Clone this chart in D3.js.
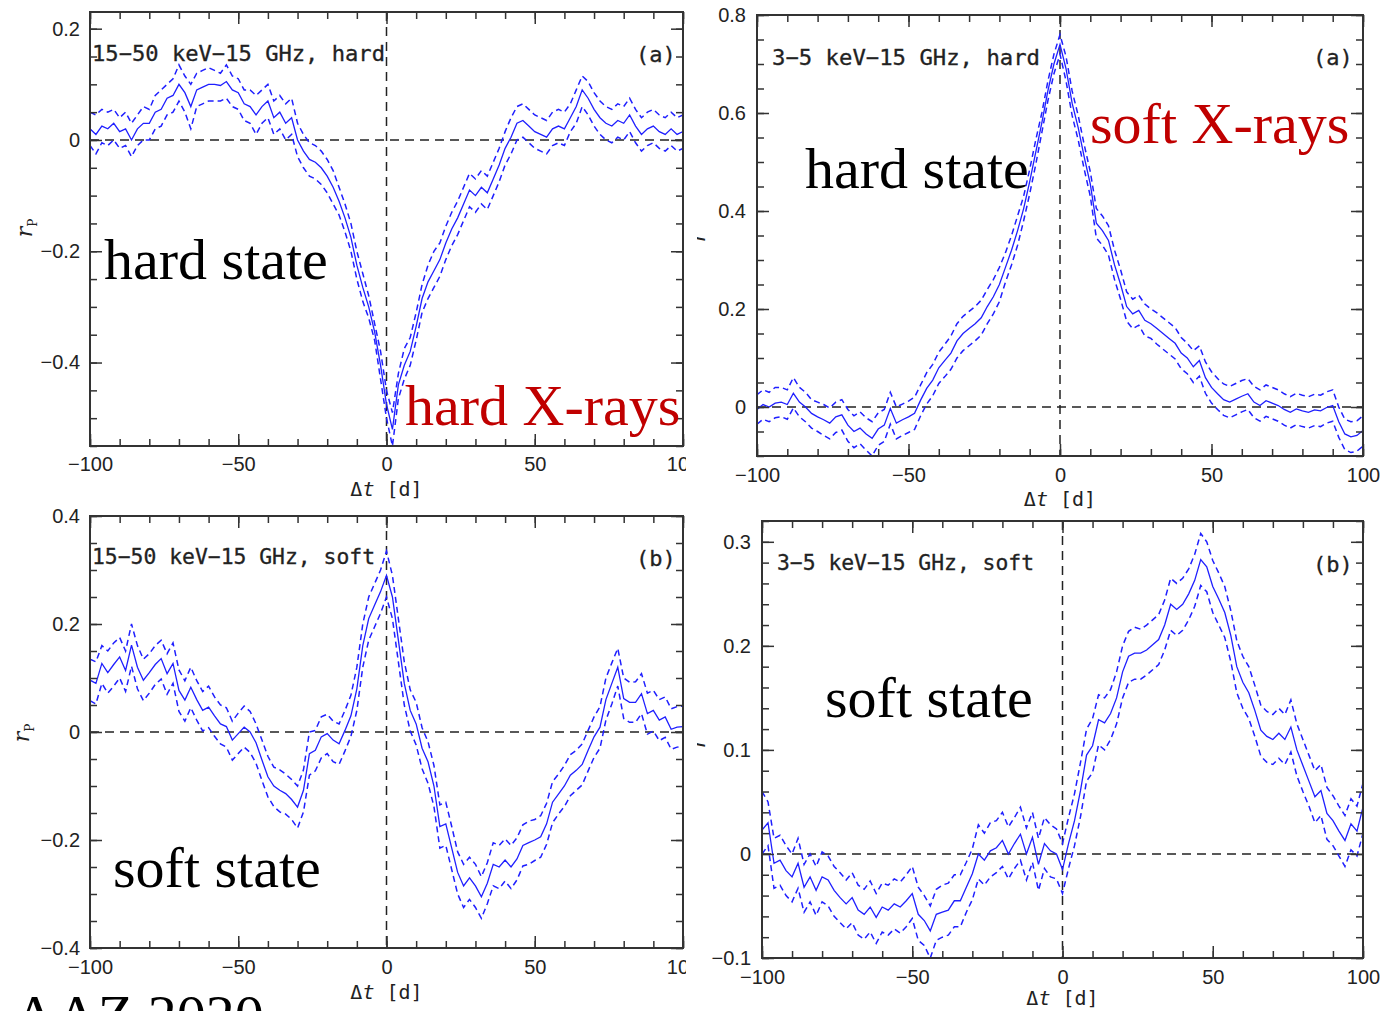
<!DOCTYPE html>
<html><head><meta charset="utf-8">
<script src="https://cdn.jsdelivr.net/npm/d3@7"></script>
<style>
html,body{margin:0;padding:0;background:#fff;}
svg{display:block;}
</style></head><body>
<svg id="chart" width="1398" height="1011"></svg>
<script>
// ---------- DATA ----------
const lags = d3.range(-100, 101, 2); // lag grid Δt [d]
const xMajorTicks = [-100, -50, 0, 50, 100];
const xMinorTicks = d3.range(-100, 101, 10);

// (a) 15-50 keV – 15 GHz, hard state
const hard15Center = [0.02,0.01,0.025,0.02,0.03,0.015,0.02,0.0,0.02,0.03,
 0.03,0.05,0.055,0.075,0.08,0.1,0.085,0.06,0.09,0.095,
 0.1,0.1,0.098,0.105,0.09,0.085,0.065,0.06,0.045,0.06,
 0.07,0.04,0.05,0.03,0.04,0.0,-0.02,-0.035,-0.04,-0.05,
 -0.065,-0.085,-0.11,-0.14,-0.175,-0.225,-0.265,-0.3,-0.345,-0.405,
 -0.475,-0.52,-0.44,-0.405,-0.38,-0.335,-0.285,-0.255,-0.235,-0.215,
 -0.185,-0.16,-0.14,-0.115,-0.09,-0.1,-0.085,-0.095,-0.07,-0.045,
 -0.015,0.005,0.03,0.035,0.025,0.015,0.01,0.005,0.02,0.025,
 0.02,0.04,0.06,0.09,0.075,0.055,0.04,0.03,0.025,0.035,
 0.03,0.045,0.025,0.01,0.02,0.025,0.015,0.01,0.02,0.01,0.015];
const hard15Upper = [0.05,0.045,0.055,0.05,0.055,0.04,0.05,0.03,0.045,0.06,
 0.055,0.08,0.09,0.1,0.11,0.135,0.115,0.1,0.12,0.125,
 0.13,0.125,0.12,0.135,0.115,0.11,0.09,0.09,0.08,0.09,
 0.1,0.07,0.08,0.065,0.075,0.03,0.01,-0.005,-0.01,-0.02,
 -0.035,-0.055,-0.085,-0.115,-0.15,-0.2,-0.24,-0.28,-0.33,-0.38,
 -0.45,-0.49,-0.42,-0.375,-0.355,-0.31,-0.26,-0.225,-0.2,-0.185,
 -0.155,-0.13,-0.11,-0.085,-0.06,-0.07,-0.055,-0.065,-0.04,-0.015,
 0.015,0.04,0.06,0.065,0.055,0.045,0.04,0.035,0.05,0.055,
 0.05,0.065,0.09,0.115,0.105,0.085,0.07,0.06,0.055,0.065,
 0.06,0.075,0.055,0.04,0.05,0.055,0.045,0.04,0.05,0.04,0.045];
const hard15Lower = [-0.01,-0.025,-0.005,-0.01,0.0,-0.015,-0.01,-0.03,-0.01,0.0,
 0.0,0.02,0.025,0.045,0.05,0.07,0.05,0.02,0.06,0.065,
 0.07,0.07,0.07,0.075,0.06,0.055,0.035,0.03,0.01,0.03,
 0.04,0.01,0.02,0.0,0.01,-0.03,-0.05,-0.065,-0.07,-0.08,
 -0.095,-0.115,-0.135,-0.165,-0.2,-0.25,-0.29,-0.32,-0.36,-0.43,
 -0.5,-0.55,-0.465,-0.43,-0.405,-0.36,-0.31,-0.285,-0.265,-0.245,
 -0.215,-0.19,-0.17,-0.145,-0.12,-0.13,-0.115,-0.125,-0.1,-0.075,
 -0.045,-0.025,0.0,0.005,-0.005,-0.015,-0.02,-0.025,-0.01,-0.005,
 -0.01,0.015,0.03,0.06,0.045,0.025,0.01,0.0,-0.005,0.005,
 0.0,0.015,-0.005,-0.02,-0.01,-0.005,-0.015,-0.02,-0.01,-0.02,-0.015];

// (a) 3-5 keV – 15 GHz, hard state
const hard3Center = [-0.005,0.005,0.0,0.008,0.01,0.005,0.028,0.01,0.0,-0.013,
 -0.02,-0.026,-0.033,-0.02,-0.016,-0.037,-0.05,-0.043,-0.055,-0.064,
 -0.045,-0.037,-0.003,-0.033,-0.026,-0.02,-0.013,0.014,0.038,0.055,
 0.08,0.095,0.11,0.135,0.15,0.16,0.17,0.182,0.205,0.225,
 0.25,0.285,0.32,0.36,0.405,0.46,0.52,0.58,0.645,0.7,
 0.74,0.69,0.62,0.57,0.51,0.455,0.375,0.36,0.34,0.29,
 0.25,0.205,0.19,0.197,0.177,0.17,0.16,0.15,0.14,0.13,
 0.11,0.1,0.082,0.095,0.06,0.04,0.027,0.015,0.01,0.016,
 0.022,0.027,0.01,0.003,0.013,0.008,0.003,-0.005,-0.011,-0.004,
 -0.008,-0.011,-0.006,-0.008,-0.001,0.003,-0.03,-0.055,-0.061,-0.058,-0.048];
const hard3Upper = [0.025,0.035,0.03,0.04,0.04,0.035,0.06,0.04,0.03,0.015,
 0.01,0.005,-0.002,0.01,0.015,-0.005,-0.018,-0.01,-0.022,-0.03,
 -0.012,-0.005,0.03,0.0,0.006,0.012,0.02,0.045,0.07,0.087,
 0.112,0.128,0.145,0.17,0.185,0.195,0.205,0.218,0.24,0.26,
 0.285,0.315,0.35,0.39,0.43,0.485,0.545,0.6,0.665,0.72,
 0.76,0.715,0.645,0.595,0.535,0.48,0.405,0.39,0.37,0.32,
 0.28,0.235,0.22,0.228,0.21,0.2,0.192,0.182,0.172,0.162,
 0.142,0.13,0.115,0.125,0.092,0.072,0.058,0.047,0.042,0.048,
 0.054,0.058,0.042,0.035,0.045,0.04,0.035,0.027,0.021,0.028,
 0.024,0.021,0.026,0.024,0.031,0.035,0.0,-0.025,-0.03,-0.028,-0.018];
const hard3Lower = [-0.035,-0.025,-0.03,-0.022,-0.02,-0.025,-0.002,-0.02,-0.03,-0.043,
 -0.05,-0.058,-0.065,-0.052,-0.047,-0.07,-0.083,-0.075,-0.088,-0.1,
 -0.078,-0.07,-0.035,-0.065,-0.058,-0.052,-0.046,-0.018,0.006,0.023,
 0.048,0.062,0.077,0.1,0.115,0.125,0.135,0.147,0.17,0.19,
 0.215,0.255,0.29,0.33,0.38,0.435,0.495,0.56,0.625,0.68,
 0.72,0.665,0.595,0.545,0.485,0.43,0.345,0.33,0.31,0.26,
 0.22,0.175,0.16,0.167,0.145,0.14,0.128,0.118,0.108,0.098,
 0.078,0.068,0.05,0.063,0.028,0.008,-0.005,-0.017,-0.022,-0.016,
 -0.01,-0.005,-0.022,-0.029,-0.019,-0.024,-0.029,-0.037,-0.043,-0.036,
 -0.04,-0.043,-0.038,-0.04,-0.033,-0.029,-0.062,-0.087,-0.093,-0.09,-0.08];

// (b) 15-50 keV – 15 GHz, soft state
const soft15Center = [0.096,0.09,0.127,0.11,0.125,0.139,0.114,0.161,0.12,0.096,
 0.11,0.125,0.136,0.108,0.127,0.077,0.059,0.083,0.06,0.04,
 0.046,0.03,0.015,0.01,-0.015,-0.003,0.009,0.0,-0.02,-0.052,
 -0.083,-0.1,-0.108,-0.114,-0.125,-0.139,-0.108,-0.04,-0.034,-0.009,
 -0.003,-0.015,-0.022,0.003,0.03,0.08,0.16,0.21,0.235,0.26,
 0.29,0.25,0.17,0.09,0.04,0.015,-0.03,-0.055,-0.1,-0.175,
 -0.17,-0.215,-0.26,-0.285,-0.27,-0.285,-0.305,-0.28,-0.245,-0.25,
 -0.237,-0.25,-0.235,-0.21,-0.205,-0.2,-0.194,-0.17,-0.13,-0.115,
 -0.1,-0.08,-0.071,-0.06,-0.034,-0.009,0.009,0.06,0.09,0.12,
 0.062,0.055,0.055,0.071,0.034,0.04,0.022,0.028,0.005,0.009,0.01];
const soft15Upper = [0.135,0.13,0.16,0.15,0.165,0.175,0.15,0.2,0.16,0.135,
 0.145,0.16,0.17,0.145,0.165,0.115,0.095,0.12,0.095,0.075,
 0.085,0.065,0.05,0.045,0.02,0.035,0.048,0.038,0.015,-0.015,
 -0.045,-0.065,-0.07,-0.078,-0.088,-0.1,-0.07,0.0,0.003,0.028,
 0.033,0.02,0.015,0.04,0.068,0.12,0.2,0.25,0.275,0.3,
 0.335,0.29,0.21,0.13,0.078,0.055,0.008,-0.018,-0.062,-0.135,
 -0.13,-0.175,-0.222,-0.245,-0.232,-0.245,-0.268,-0.242,-0.205,-0.21,
 -0.198,-0.21,-0.196,-0.172,-0.165,-0.162,-0.155,-0.132,-0.092,-0.078,
 -0.062,-0.042,-0.034,-0.022,0.003,0.028,0.047,0.1,0.128,0.155,
 0.1,0.092,0.093,0.108,0.072,0.077,0.06,0.065,0.043,0.047,0.048];
const soft15Lower = [0.058,0.052,0.09,0.072,0.085,0.1,0.075,0.122,0.08,0.058,
 0.072,0.088,0.098,0.07,0.09,0.038,0.02,0.045,0.022,0.002,
 0.008,-0.008,-0.022,-0.028,-0.052,-0.04,-0.028,-0.038,-0.058,-0.09,
 -0.12,-0.138,-0.148,-0.152,-0.162,-0.178,-0.148,-0.08,-0.072,-0.048,
 -0.04,-0.055,-0.06,-0.035,-0.008,0.04,0.12,0.17,0.195,0.22,
 0.25,0.21,0.13,0.05,0.002,-0.024,-0.068,-0.095,-0.138,-0.215,
 -0.21,-0.255,-0.3,-0.325,-0.31,-0.325,-0.345,-0.318,-0.285,-0.29,
 -0.276,-0.29,-0.274,-0.248,-0.245,-0.238,-0.232,-0.208,-0.168,-0.152,
 -0.138,-0.118,-0.108,-0.098,-0.072,-0.047,-0.03,0.022,0.052,0.085,
 0.025,0.018,0.018,0.034,-0.004,0.002,-0.016,-0.01,-0.032,-0.028,-0.027];

// (b) 3-5 keV – 15 GHz, soft state
const soft3Center = [0.023,0.03,-0.009,-0.006,-0.016,-0.022,-0.009,-0.032,-0.022,-0.035,
 -0.022,-0.025,-0.035,-0.042,-0.048,-0.042,-0.054,-0.058,-0.051,-0.061,
 -0.051,-0.054,-0.048,-0.051,-0.045,-0.038,-0.058,-0.064,-0.074,-0.058,
 -0.056,-0.054,-0.045,-0.045,-0.032,-0.019,0.0,-0.006,0.003,0.006,
 0.013,0.0,0.01,0.019,0.0,0.016,-0.01,0.01,0.003,0.0,
 -0.015,0.01,0.032,0.061,0.095,0.104,0.129,0.126,0.135,0.15,
 0.175,0.19,0.193,0.193,0.196,0.201,0.206,0.22,0.24,0.235,
 0.24,0.25,0.263,0.283,0.276,0.257,0.245,0.232,0.21,0.18,
 0.165,0.155,0.138,0.119,0.113,0.11,0.116,0.11,0.122,0.1,
 0.085,0.07,0.055,0.061,0.039,0.032,0.022,0.013,0.029,0.022,0.045];
const soft3Upper = [0.06,0.05,0.015,0.018,0.008,0.0,0.015,-0.01,0.0,-0.012,
 0.002,-0.002,-0.012,-0.018,-0.025,-0.018,-0.03,-0.034,-0.026,-0.038,
 -0.028,-0.03,-0.024,-0.027,-0.02,-0.012,-0.032,-0.04,-0.05,-0.034,
 -0.03,-0.028,-0.02,-0.02,-0.008,0.005,0.028,0.02,0.03,0.032,
 0.04,0.026,0.035,0.045,0.025,0.04,0.015,0.035,0.028,0.024,
 0.01,0.035,0.058,0.088,0.12,0.13,0.153,0.15,0.158,0.175,
 0.2,0.214,0.218,0.216,0.22,0.225,0.23,0.244,0.265,0.26,
 0.265,0.274,0.288,0.308,0.3,0.282,0.27,0.257,0.234,0.205,
 0.19,0.18,0.162,0.143,0.137,0.134,0.14,0.134,0.148,0.125,
 0.11,0.095,0.08,0.086,0.064,0.056,0.046,0.037,0.053,0.046,0.068];
const soft3Lower = [0.0,0.008,-0.033,-0.03,-0.04,-0.046,-0.033,-0.056,-0.046,-0.059,
 -0.046,-0.05,-0.06,-0.066,-0.072,-0.066,-0.078,-0.082,-0.075,-0.086,
 -0.075,-0.078,-0.072,-0.076,-0.07,-0.062,-0.083,-0.088,-0.1,-0.083,
 -0.08,-0.078,-0.07,-0.07,-0.056,-0.044,-0.024,-0.03,-0.022,-0.018,
 -0.012,-0.024,-0.014,-0.006,-0.025,-0.008,-0.035,-0.014,-0.022,-0.024,
 -0.038,-0.014,0.008,0.036,0.07,0.078,0.105,0.1,0.11,0.125,
 0.15,0.165,0.168,0.168,0.172,0.177,0.182,0.196,0.215,0.21,
 0.215,0.225,0.238,0.258,0.252,0.232,0.22,0.208,0.185,0.155,
 0.14,0.13,0.113,0.094,0.088,0.086,0.092,0.086,0.098,0.075,
 0.06,0.046,0.03,0.037,0.014,0.008,-0.002,-0.012,0.004,-0.002,0.02];

const yMajorA = [-0.4, -0.2, 0, 0.2];
const yMajorB = [0, 0.2, 0.4, 0.6, 0.8];
const yMajorC = [-0.4, -0.2, 0, 0.2, 0.4];
const yMajorD = [-0.1, 0, 0.1, 0.2, 0.3];
const yMinorA = [-0.55,-0.5,-0.45,-0.4,-0.35,-0.3,-0.25,-0.2,-0.15,-0.1,-0.05,0,0.05,0.1,0.15,0.2];
const yMinorB = [-0.1,-0.05,0,0.05,0.1,0.15,0.2,0.25,0.3,0.35,0.4,0.45,0.5,0.55,0.6,0.65,0.7,0.75,0.8];
const yMinorC = [-0.4,-0.35,-0.3,-0.25,-0.2,-0.15,-0.1,-0.05,0,0.05,0.1,0.15,0.2,0.25,0.3,0.35,0.4];
const yMinorD = [-0.1,-0.08,-0.06,-0.04,-0.02,0,0.02,0.04,0.06,0.08,0.1,0.12,0.14,0.16,0.18,0.2,0.22,0.24,0.26,0.28,0.3,0.32];

const panelTitles = ["15\u221250 keV\u221215 GHz, hard", "3\u22125 keV\u221215 GHz, hard",
                     "15\u221250 keV\u221215 GHz, soft", "3\u22125 keV\u221215 GHz, soft"];
const panelLetters = ["(a)", "(a)", "(b)", "(b)"];
const stateLabels = ["hard state", "hard state", "soft state", "soft state"];
const bandLabels = ["hard X-rays", "soft X-rays"];
const yTitleSubs = ["P", "", "P", ""];
const creditLabel = "AAZ 2020";

// ---------- LAYOUT ----------
const layout = [
  {x0:90, x1:683, y0:12, y1:446, dom:[-0.55,0.23], maj:yMajorA, min:yMinorA, c:hard15Center, u:hard15Upper, l:hard15Lower,
   left:true, xPad:11, titleY:496, yPad:10, yt:[32,228], tx:92, tw:293, ty:61, lx:636, ly:62,
   state:[104,279], band:[405,425,0]},
  {x0:757, x1:1363, y0:15, y1:456, dom:[-0.1,0.8], maj:yMajorB, min:yMinorB, c:hard3Center, u:hard3Upper, l:hard3Lower,
   left:false, xPad:12, titleY:506, yPad:11, yt:[705,237], tx:772, tw:268, ty:65, lx:1313, ly:65,
   state:[805,188], band:[1090,143,1]},
  {x0:90, x1:683, y0:516, y1:948, dom:[-0.4,0.4], maj:yMajorC, min:yMinorC, c:soft15Center, u:soft15Upper, l:soft15Lower,
   left:true, xPad:12, titleY:999, yPad:10, yt:[29,733], tx:92, tw:283, ty:564, lx:636, ly:566,
   state:[113,887], band:null},
  {x0:762, x1:1363, y0:521, y1:958, dom:[-0.1,0.32], maj:yMajorD, min:yMinorD, c:soft3Center, u:soft3Upper, l:soft3Lower,
   left:false, xPad:12, titleY:1005, yPad:11, yt:[705,743], tx:777, tw:257, ty:570, lx:1313, ly:572,
   state:[825,717], band:null}
];

const svg = d3.select("#chart");
const defs = svg.append("defs");
defs.append("clipPath").attr("id","leftcol").append("rect").attr("x",0).attr("y",0).attr("width",686).attr("height",1011);
defs.append("clipPath").attr("id","rightcol").append("rect").attr("x",697).attr("y",0).attr("width",701).attr("height",1011);

const fmt = d => d === 0 ? "0" : (d < 0 ? "\u2212" : "") + String(Math.abs(d));
const BLUE = "#1f1fff";
const AX = "#333";

layout.forEach((p, i) => {
  const g = svg.append("g").attr("clip-path", p.left ? "url(#leftcol)" : "url(#rightcol)");
  const x = d3.scaleLinear().domain([-100, 100]).range([p.x0, p.x1]);
  const y = d3.scaleLinear().domain(p.dom).range([p.y1, p.y0]);

  defs.append("clipPath").attr("id", "plot" + i).append("rect")
    .attr("x", p.x0).attr("y", p.y0).attr("width", p.x1 - p.x0).attr("height", p.y1 - p.y0);
  const plot = g.append("g").attr("clip-path", "url(#plot" + i + ")");

  // zero reference lines
  plot.append("line").attr("x1", p.x0).attr("x2", p.x1).attr("y1", y(0)).attr("y2", y(0))
    .attr("stroke", "#222").attr("stroke-width", 1.5).attr("stroke-dasharray", "9,6");
  plot.append("line").attr("x1", x(0)).attr("x2", x(0)).attr("y1", p.y0).attr("y2", p.y1)
    .attr("stroke", "#222").attr("stroke-width", 1.5).attr("stroke-dasharray", "9,6");

  const line = d3.line().x((d, k) => x(lags[k])).y(d => y(d));
  plot.append("path").attr("d", line(p.u)).attr("fill", "none").attr("stroke", BLUE)
    .attr("stroke-width", 1.5).attr("stroke-dasharray", "6,4");
  plot.append("path").attr("d", line(p.l)).attr("fill", "none").attr("stroke", BLUE)
    .attr("stroke-width", 1.5).attr("stroke-dasharray", "6,4");
  plot.append("path").attr("d", line(p.c)).attr("fill", "none").attr("stroke", BLUE)
    .attr("stroke-width", 1.3);

  // axes (ticks inward on all four sides)
  const styleAxis = sel => {
    sel.select(".domain").remove();
    sel.selectAll(".tick line").attr("stroke", AX).attr("stroke-width", 1.5);
    sel.selectAll(".tick text").attr("fill", "#222").attr("font-family", "'Liberation Sans', Arial, sans-serif").attr("font-size", 20);
  };
  g.append("g").attr("transform", `translate(0,${p.y1})`)
    .call(d3.axisBottom(x).tickValues(xMinorTicks).tickSize(-7).tickFormat("")).call(styleAxis);
  g.append("g").attr("transform", `translate(0,${p.y1})`)
    .call(d3.axisBottom(x).tickValues(xMajorTicks).tickSize(-12).tickPadding(p.xPad).tickFormat(fmt)).call(styleAxis);
  g.append("g").attr("transform", `translate(0,${p.y0})`)
    .call(d3.axisTop(x).tickValues(xMinorTicks).tickSize(-7).tickFormat("")).call(styleAxis);
  g.append("g").attr("transform", `translate(0,${p.y0})`)
    .call(d3.axisTop(x).tickValues(xMajorTicks).tickSize(-12).tickFormat("")).call(styleAxis);
  g.append("g").attr("transform", `translate(${p.x0},0)`)
    .call(d3.axisLeft(y).tickValues(p.min).tickSize(-7).tickFormat("")).call(styleAxis);
  g.append("g").attr("transform", `translate(${p.x0},0)`)
    .call(d3.axisLeft(y).tickValues(p.maj).tickSize(-12).tickPadding(p.yPad).tickFormat(fmt)).call(styleAxis);
  g.append("g").attr("transform", `translate(${p.x1},0)`)
    .call(d3.axisRight(y).tickValues(p.min).tickSize(-7).tickFormat("")).call(styleAxis);
  g.append("g").attr("transform", `translate(${p.x1},0)`)
    .call(d3.axisRight(y).tickValues(p.maj).tickSize(-12).tickFormat("")).call(styleAxis);

  // frame
  g.append("rect").attr("x", p.x0).attr("y", p.y0).attr("width", p.x1 - p.x0).attr("height", p.y1 - p.y0)
    .attr("fill", "none").attr("stroke", AX).attr("stroke-width", 2);

  // axis titles
  const xt = g.append("text").attr("x", x(0)).attr("y", p.titleY).attr("text-anchor", "middle")
    .attr("font-family", "'DejaVu Sans Mono', monospace").attr("font-size", 20).attr("fill", "#222");
  xt.append("tspan").text("\u0394");
  xt.append("tspan").attr("font-style", "italic").text("t");
  xt.append("tspan").text(" [d]");

  const yt = g.append("text").attr("transform", `translate(${p.yt[0]},${p.yt[1]}) rotate(-90)`)
    .attr("text-anchor", "middle").attr("font-family", "'DejaVu Serif', serif").attr("font-size", 22).attr("fill", "#222");
  yt.append("tspan").attr("font-style", "italic").text("r");
  if (yTitleSubs[i]) yt.append("tspan").attr("font-size", 12).attr("dy", 5).text(yTitleSubs[i]);

  // panel title and letter
  g.append("text").attr("x", p.tx).attr("y", p.ty).attr("textLength", p.tw).attr("lengthAdjust", "spacingAndGlyphs")
    .attr("font-family", "'DejaVu Sans Mono', monospace").attr("font-size", 21).attr("fill", "#222")
    .attr("stroke", "#222").attr("stroke-width", 0.3).text(panelTitles[i]);
  g.append("text").attr("x", p.lx).attr("y", p.ly)
    .attr("font-family", "'DejaVu Sans Mono', monospace").attr("font-size", 22).attr("fill", "#222")
    .attr("stroke", "#222").attr("stroke-width", 0.3).text(panelLetters[i]);

  // big annotations
  g.append("text").attr("x", p.state[0]).attr("y", p.state[1])
    .attr("font-family", "'Liberation Serif', 'Times New Roman', serif").attr("font-size", 58).attr("fill", "#000")
    .text(stateLabels[i]);
  if (p.band) {
    g.append("text").attr("x", p.band[0]).attr("y", p.band[1])
      .attr("font-family", "'Liberation Serif', 'Times New Roman', serif").attr("font-size", 58).attr("fill", "#c00000")
      .text(bandLabels[p.band[2]]);
  }
});

svg.append("text").attr("x", 14).attr("y", 1035)
  .attr("font-family", "'Liberation Serif', 'Times New Roman', serif").attr("font-size", 58).attr("fill", "#000")
  .text(creditLabel);
</script>
</body></html>
